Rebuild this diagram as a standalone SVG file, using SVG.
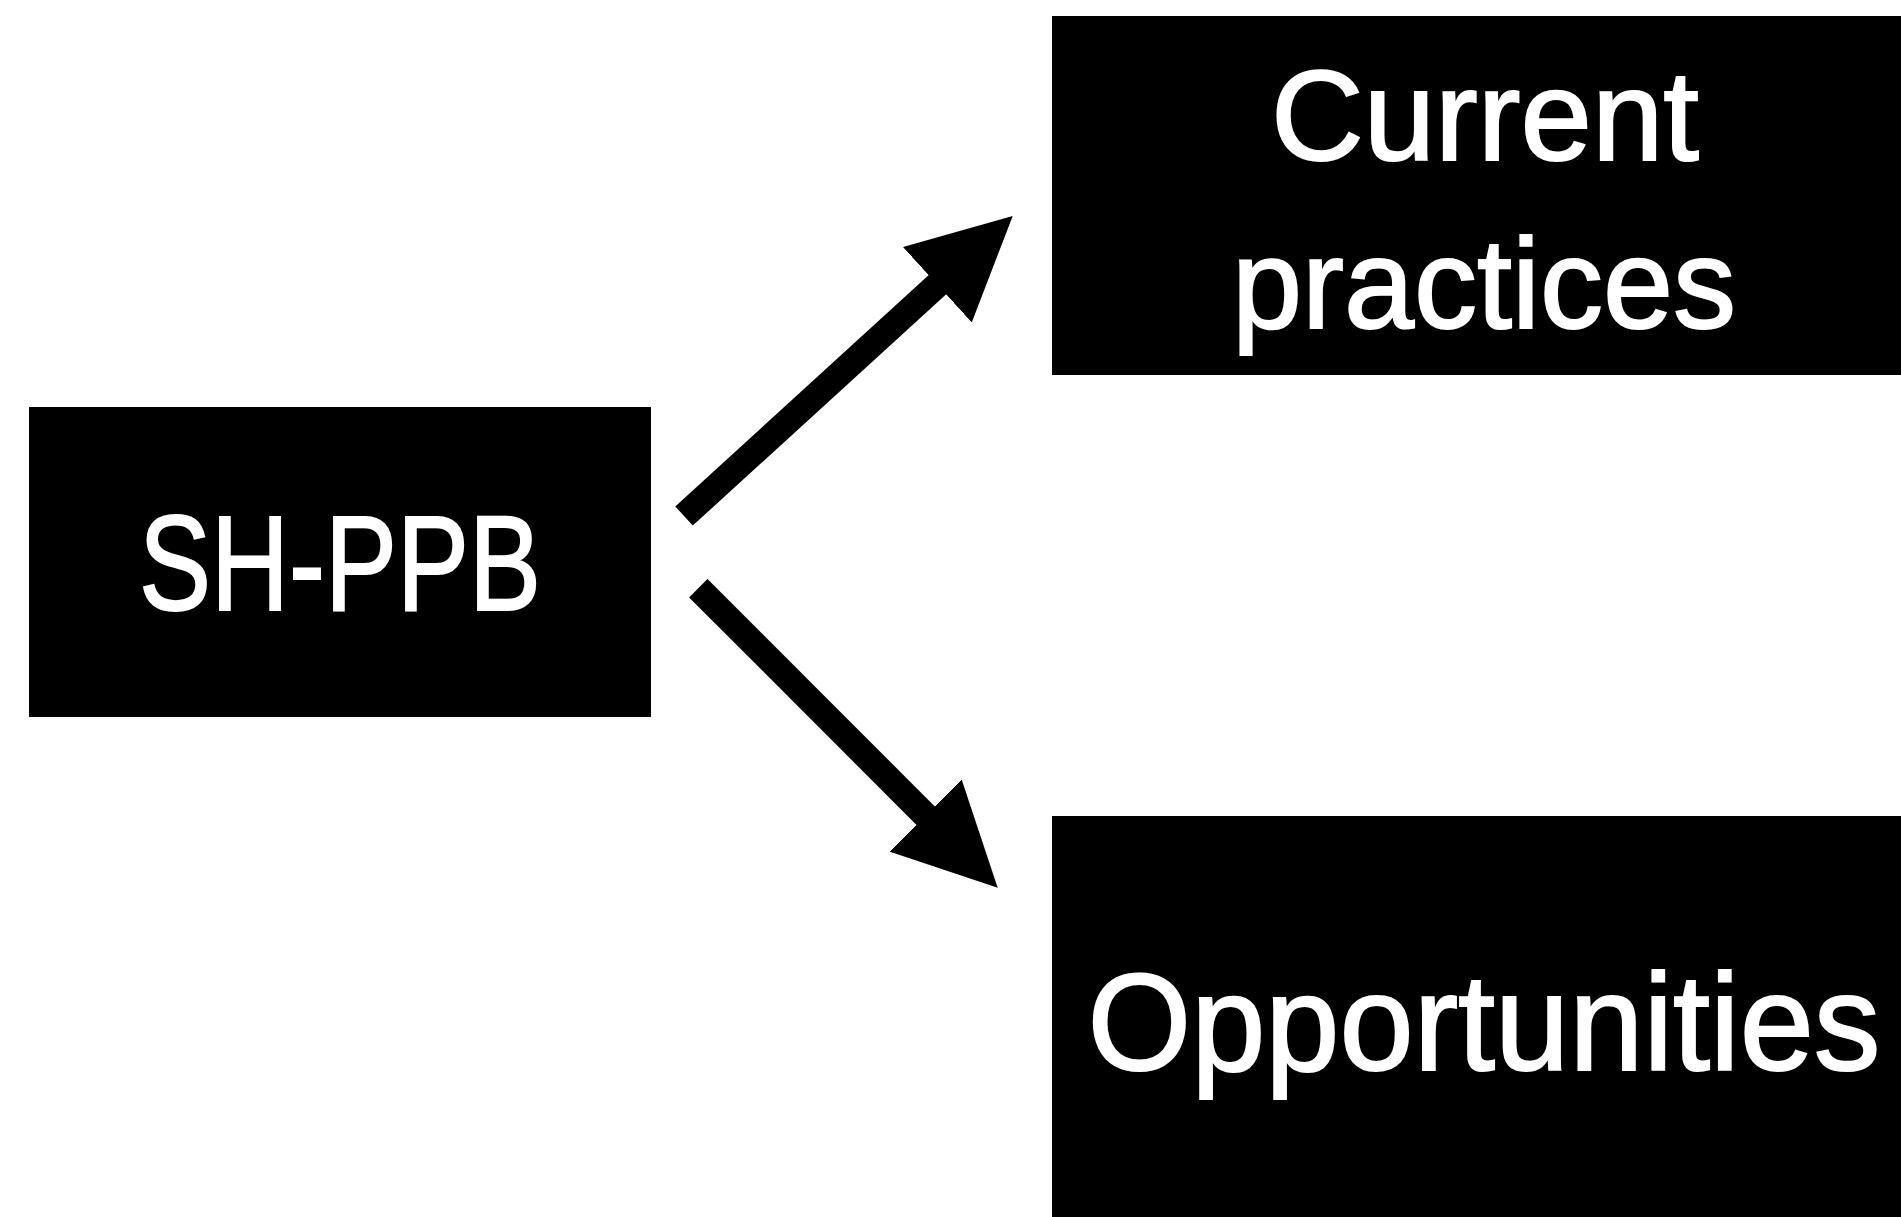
<svg xmlns="http://www.w3.org/2000/svg" width="1901" height="1217" viewBox="0 0 1901 1217">
<style>
.box{fill:#000}
.lbl{fill:#fff;stroke:#fff;stroke-width:2;font-family:"Liberation Sans",Arial,sans-serif;text-anchor:middle}
.conn{stroke:#000;stroke-width:26;fill:none;marker-end:url(#head)}
</style>
<defs>
<marker id="head" viewBox="0 0 102 102" markerWidth="102" markerHeight="102" markerUnits="userSpaceOnUse" refX="32" refY="51" orient="auto">
<path d="M0,0 L102,51 L0,102 z" fill="#000"/>
</marker>
</defs>
<rect width="1901" height="1217" fill="#fff"/>
<g id="connectors">
<line class="conn" x1="684" y1="516" x2="961" y2="263.2"/>
<line class="conn" x1="698.3" y1="588.2" x2="948.2" y2="838.2"/>
</g>
<g id="sh-ppb">
<rect class="box" x="29" y="407" width="622" height="310"/>
<text class="lbl" x="340" y="610" font-size="136" textLength="402" lengthAdjust="spacingAndGlyphs">SH-PPB</text>
</g>
<g id="current-practices">
<rect class="box" x="1052" y="16" width="860" height="359"/>
<text class="lbl" x="1485" y="160" font-size="128" textLength="428" lengthAdjust="spacingAndGlyphs">Current</text>
<text class="lbl" x="1484" y="328" font-size="128" textLength="504" lengthAdjust="spacingAndGlyphs">practices</text>
</g>
<g id="opportunities">
<rect class="box" x="1052" y="816" width="860" height="410"/>
<text class="lbl" x="1484" y="1070" font-size="137" textLength="793" lengthAdjust="spacingAndGlyphs">Opportunities</text>
</g>
</svg>
